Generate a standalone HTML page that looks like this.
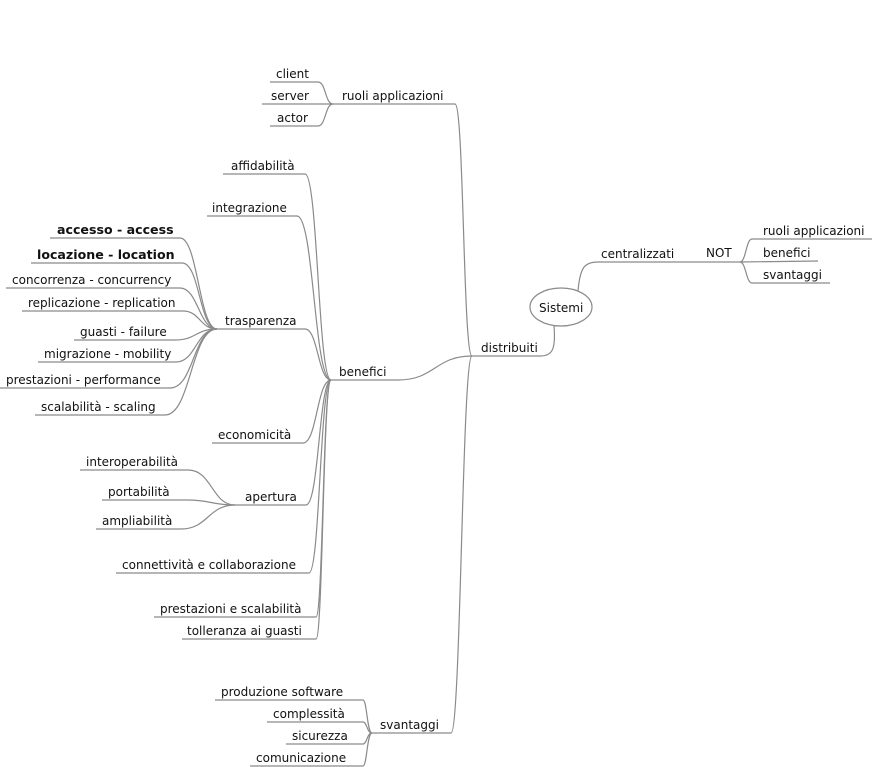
<!DOCTYPE html>
<html><head><meta charset="utf-8"><style>
html,body{margin:0;padding:0;background:#fff;width:872px;height:767px;overflow:hidden}
svg text{font-family:"DejaVu Sans","Liberation Sans",sans-serif;font-size:12px;fill:#111}
.b{font-weight:bold;font-size:12.6px}
</style></head><body>
<svg width="872" height="767" viewBox="0 0 872 767" xmlns="http://www.w3.org/2000/svg">
<g fill="none" stroke="#8a8a8a" stroke-width="1.2">
<ellipse cx="561" cy="307" rx="31" ry="19"/>
<path d="M578 291 C580 268,584 262,598 262 L740 262"/>
<path d="M554 326 C556 350,552 356,540 356 L472 356"/>
<path d="M740 262 C746 262,746 239,752 239 L872 239"/>
<path d="M740 262 L818 261"/>
<path d="M740 262 C746 262,746 283,752 283 L830 283"/>
<path d="M472 356 C463 356,464 104,455 104 L333 104"/>
<path d="M472 356 C435 356,435 380,398 380 L331 380"/>
<path d="M472 356 C462 356,461 733,451 733 L372 733"/>
<path d="M333 104 C325 104,326 82,318 82 L270 82"/>
<path d="M333 104 L262 104"/>
<path d="M333 104 C325 104,326 126,318 126 L270 126"/>
<path d="M331 380 C318 380,318 174,305 174 L223 174"/>
<path d="M331 380 C314 380,314 216,297 216 L207 216"/>
<path d="M331 380 C318 380,318 329,305 329 L217 329"/>
<path d="M331 380 C317 380,317 443,303 443 L212 443"/>
<path d="M331 380 C319 380,319 505,306 505 L235 505"/>
<path d="M331 380 C320 380,320 573,309 573 L116 573"/>
<path d="M331 380 C323 380,323 617,316 617 L154 617"/>
<path d="M331 380 C323 380,323 639,316 639 L182 639"/>
<path d="M217 329 C199 329,198 238,180 238 L50 238"/>
<path d="M217 329 C199 329,200 263,182 263 L31 263"/>
<path d="M217 329 C199 329,198 288,180 288 L6 288"/>
<path d="M217 329 C200 329,200 311,183 311 L22 311"/>
<path d="M217 329 C196 329,196 340,175 340 L74 340"/>
<path d="M217 329 C196 329,196 362,176 362 L38 362"/>
<path d="M217 329 C193 329,194 388,170 388 L0 388"/>
<path d="M217 329 C191 329,191 415,165 415 L35 415"/>
<path d="M235 505 C212 505,212 470,188 470 L80 470"/>
<path d="M235 505 C211 505,211 500,187 500 L102 500"/>
<path d="M235 505 C208 505,208 529,181 529 L96 529"/>
<path d="M372 733 C367 733,367 700,363 700 L215 700"/>
<path d="M372 733 C367 733,367 722,363 722 L267 722"/>
<path d="M372 733 C367 733,367 744,363 744 L286 744"/>
<path d="M372 733 C367 733,367 766,363 766 L250 766"/>
</g>
<text x="539" y="312">Sistemi</text>
<text x="601" y="258">centralizzati</text>
<text x="706" y="257">NOT</text>
<text x="763" y="235">ruoli applicazioni</text>
<text x="763" y="257">benefici</text>
<text x="763" y="279">svantaggi</text>
<text x="481" y="352">distribuiti</text>
<text x="342" y="100">ruoli applicazioni</text>
<text x="339" y="376">benefici</text>
<text x="380" y="729">svantaggi</text>
<text x="276" y="78">client</text>
<text x="271" y="100">server</text>
<text x="277" y="122">actor</text>
<text x="231" y="170">affidabilità</text>
<text x="212" y="212">integrazione</text>
<text x="225" y="325">trasparenza</text>
<text x="218" y="439">economicità</text>
<text x="245" y="501">apertura</text>
<text x="122" y="569">connettività e collaborazione</text>
<text x="160" y="613">prestazioni e scalabilità</text>
<text x="187" y="635">tolleranza ai guasti</text>
<text class="b" x="57" y="234">accesso - access</text>
<text class="b" x="37" y="259">locazione - location</text>
<text x="12" y="284">concorrenza - concurrency</text>
<text x="28" y="307">replicazione - replication</text>
<text x="80" y="336">guasti - failure</text>
<text x="44" y="358">migrazione - mobility</text>
<text x="6" y="384">prestazioni - performance</text>
<text x="41" y="411">scalabilità - scaling</text>
<text x="86" y="466">interoperabilità</text>
<text x="108" y="496">portabilità</text>
<text x="102" y="525">ampliabilità</text>
<text x="221" y="696">produzione software</text>
<text x="273" y="718">complessità</text>
<text x="292" y="740">sicurezza</text>
<text x="256" y="762">comunicazione</text>
</svg>
</body></html>
